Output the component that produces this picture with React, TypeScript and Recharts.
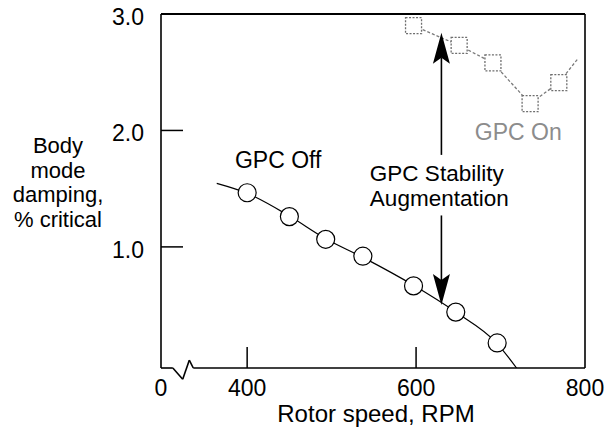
import React from 'react';
import { ComposedChart, Line, Scatter, XAxis, YAxis, ReferenceLine, ReferenceDot } from 'recharts';

const FONT = '"Liberation Sans", Arial, Helvetica, sans-serif';

// Axis ranges and ticks (the x axis is broken: its left edge is labelled "0")
const xDomain: [number, number] = [298, 800];
const yDomain: [number, number] = [-0.04, 3.0];
const xTickValues = [298, 400, 600, 800];
const xTickLabels = ['0', '400', '600', '800'];
const yTickValues = [1, 2, 3];
const yTickLabels = ['1.0', '2.0', '3.0'];

// GPC Off (circles) and its fitted curve
const gpcOffRpm = [400, 450, 493, 537, 597, 647, 696];
const gpcOffDamping = [1.465, 1.26, 1.065, 0.92, 0.665, 0.44, 0.175];
const gpcOffFitRpm = [364, 400, 450, 493, 537, 597, 647, 696, 719];
const gpcOffFitDamping = [1.545, 1.46, 1.265, 1.07, 0.91, 0.67, 0.44, 0.17, -0.04];

// GPC On (squares) and its line
const gpcOnRpm = [597, 651, 691, 735, 769];
const gpcOnDamping = [2.9, 2.73, 2.58, 2.23, 2.41];
const gpcOnLineRpm = [597, 651, 691, 735, 769, 792];
const gpcOnLineDamping = [2.9, 2.73, 2.58, 2.23, 2.41, 2.62];

// Augmentation arrows
const augmentationRpm = 630;
const arrowUpDamping = [1.79, 2.84];
const arrowDownDamping = [1.27, 0.5];

// Bottom axis with break mark
const axisBreakRpm = [298, 312, 323.7, 331.5, 336.2, 800];
const axisBreakDamping = [-0.04, -0.04, -0.136, 0.027, -0.04, -0.04];

// Annotations (start anchored, baseline)
const annotationText = ['GPC Off', 'GPC On', 'GPC Stability', 'Augmentation'];
const annotationRpm = [385.6, 669.6, 545.3, 545.3];
const annotationDamping = [1.677, 1.918, 1.566, 1.355];
const annotationColor = ['#000', '#8c8c8c', '#000', '#000'];

const yLabelLines = ['Body', 'mode', 'damping,', '% critical'];
const xLabelText = 'Rotor speed, RPM';

const gpcOff = gpcOffRpm.map((x, i) => ({ x, y: gpcOffDamping[i] }));
const gpcOffFit = gpcOffFitRpm.map((x, i) => ({ x, y: gpcOffFitDamping[i] }));
const gpcOn = gpcOnRpm.map((x, i) => ({ x, y: gpcOnDamping[i] }));
const gpcOnLine = gpcOnLineRpm.map((x, i) => ({ x, y: gpcOnLineDamping[i] }));

const XTick = (p: any) => {
  const { x, y, payload } = p;
  const i = xTickValues.indexOf(payload.value);
  const inner = payload.value > xDomain[0] && payload.value < xDomain[1];
  return (
    <g>
      {inner && <line x1={x} y1={y} x2={x} y2={y - 21} stroke="#000" strokeWidth={1.5} />}
      <text x={x} y={y + 28} textAnchor="middle" fontSize={23} fontFamily={FONT} fill="#000">
        {xTickLabels[i]}
      </text>
    </g>
  );
};

const YTick = (p: any) => {
  const { x, y, payload } = p;
  const i = yTickValues.indexOf(payload.value);
  const inner = payload.value > yDomain[0] && payload.value < yDomain[1];
  return (
    <g>
      {inner && <line x1={x} y1={y} x2={x + 22} y2={y} stroke="#000" strokeWidth={1.5} />}
      <text x={x - 17} y={y + 11} textAnchor="end" fontSize={23} fontFamily={FONT} fill="#000">
        {yTickLabels[i]}
      </text>
    </g>
  );
};

const CircleShape = (p: any) => (
  <circle cx={p.cx} cy={p.cy} r={9} fill="#fff" stroke="#000" strokeWidth={1.2} />
);
const SquareShape = (p: any) => (
  <rect x={p.cx - 8} y={p.cy - 8} width={16} height={16} fill="#fff" stroke="#6e6e6e" strokeWidth={1.3} strokeDasharray="2 1.5" />
);

const ArrowShape = (props: any) => {
  const { x1, y1, x2, y2 } = props;
  const dir = y2 > y1 ? 1 : -1;
  const headLen = 31;
  const half = 8.5;
  const baseY = y2 - dir * headLen;
  return (
    <g>
      <line x1={x1} y1={y1} x2={x2} y2={baseY + dir * 6} stroke="#000" strokeWidth={1.6} />
      <polygon
        points={`${x2},${y2} ${x2 - half},${baseY} ${x2},${baseY + dir * 6} ${x2 + half},${baseY}`}
        fill="#000"
      />
    </g>
  );
};

const textLabel = (text: string, color: string, size: number) => (props: any) => {
  const vb = props.viewBox || {};
  return (
    <text x={vb.x} y={vb.y} textAnchor="start" fontSize={size} fontFamily={FONT} fill={color}>
      {text}
    </text>
  );
};

const YLabel = (props: any) => {
  const vb = props.viewBox || { x: 0, y: 0 };
  return (
    <g>
      {yLabelLines.map((l, i) => (
        <text
          key={i}
          x={vb.x + 58}
          y={vb.y + 139 + i * 24.7}
          textAnchor="middle"
          fontSize={22}
          fontFamily={FONT}
          fill="#000"
        >
          {l}
        </text>
      ))}
    </g>
  );
};

const XLabel = (props: any) => {
  const vb = props.viewBox || { x: 0, y: 0 };
  return (
    <text x={vb.x + 215} y={vb.y + 54} textAnchor="middle" fontSize={24} fontFamily={FONT} fill="#000">
      {xLabelText}
    </text>
  );
};

export default function App() {
  const breakSegments = axisBreakRpm.slice(1).map((x, i) => [
    { x: axisBreakRpm[i], y: axisBreakDamping[i] },
    { x, y: axisBreakDamping[i + 1] },
  ]);
  return (
    <div style={{ position: 'absolute', left: 0, top: 0, width: 609, height: 437, background: '#fff' }}>
      <ComposedChart width={609} height={437} margin={{ top: 14, right: 24, bottom: 0, left: 0 }}>
        <XAxis
          type="number"
          dataKey="x"
          domain={xDomain}
          allowDataOverflow
          ticks={xTickValues}
          interval={0}
          axisLine={false}
          tickLine={false}
          tickSize={0}
          tickMargin={0}
          height={69}
          tick={<XTick />}
          label={{ content: <XLabel /> }}
        />
        <YAxis
          type="number"
          dataKey="y"
          domain={yDomain}
          allowDataOverflow
          ticks={yTickValues}
          interval={0}
          axisLine={{ stroke: '#000', strokeWidth: 1.6 }}
          tickLine={false}
          tickSize={0}
          tickMargin={0}
          width={161}
          tick={<YTick />}
          label={{ content: <YLabel /> }}
        />
        <ReferenceLine y={3} stroke="#000" strokeWidth={1.8} ifOverflow="visible" />
        <ReferenceLine x={800} stroke="#000" strokeWidth={1.6} ifOverflow="visible" />
        {breakSegments.map((seg, i) => (
          <ReferenceLine key={'b' + i} segment={seg} stroke="#000" strokeWidth={1.6} ifOverflow="visible" />
        ))}
        <Line
          data={gpcOnLine}
          dataKey="y"
          type="linear"
          stroke="#7a7a7a"
          strokeWidth={1.3}
          strokeDasharray="3 2"
          dot={false}
          activeDot={false}
          isAnimationActive={false}
        />
        <Scatter data={gpcOn} dataKey="y" shape={<SquareShape />} isAnimationActive={false} />
        <Line
          data={gpcOffFit}
          dataKey="y"
          type="monotone"
          stroke="#000"
          strokeWidth={1.2}
          dot={false}
          activeDot={false}
          isAnimationActive={false}
        />
        <Scatter data={gpcOff} dataKey="y" shape={<CircleShape />} isAnimationActive={false} />
        <ReferenceLine
          segment={[
            { x: augmentationRpm, y: arrowUpDamping[0] },
            { x: augmentationRpm, y: arrowUpDamping[1] },
          ]}
          shape={ArrowShape}
          ifOverflow="visible"
        />
        <ReferenceLine
          segment={[
            { x: augmentationRpm, y: arrowDownDamping[0] },
            { x: augmentationRpm, y: arrowDownDamping[1] },
          ]}
          shape={ArrowShape}
          ifOverflow="visible"
        />
        {annotationText.map((t, i) => (
          <ReferenceDot
            key={'a' + i}
            x={annotationRpm[i]}
            y={annotationDamping[i]}
            r={0}
            fill="none"
            stroke="none"
            ifOverflow="visible"
            label={{ content: textLabel(t, annotationColor[i], i >= 2 ? 22.5 : 23) }}
          />
        ))}
      </ComposedChart>
    </div>
  );
}
